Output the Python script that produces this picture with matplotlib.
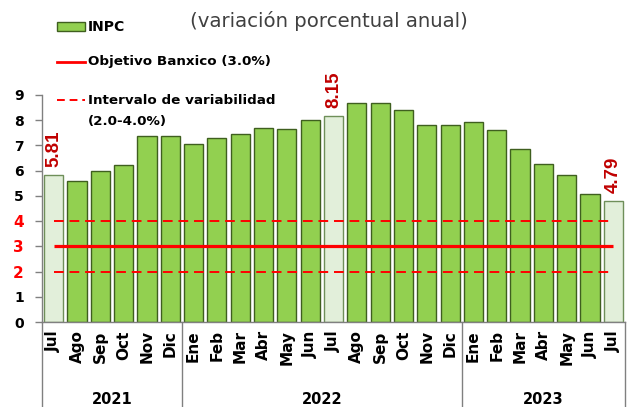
import matplotlib
matplotlib.use("Agg")
import matplotlib.pyplot as plt
from matplotlib.lines import Line2D
from matplotlib.patches import Rectangle
import matplotlib.transforms as mtransforms

months = ["Jul", "Ago", "Sep", "Oct", "Nov", "Dic",
          "Ene", "Feb", "Mar", "Abr", "May", "Jun", "Jul", "Ago", "Sep", "Oct", "Nov", "Dic",
          "Ene", "Feb", "Mar", "Abr", "May", "Jun", "Jul"]
inpc = [5.81, 5.59, 6.00, 6.24, 7.37, 7.36,
        7.07, 7.28, 7.45, 7.68, 7.65, 7.99, 8.15, 8.70, 8.70, 8.41, 7.80, 7.82,
        7.91, 7.62, 6.85, 6.25, 5.84, 5.06, 4.79]
years = ["2021", "2022", "2023"]
year_counts = [6, 12, 7]
highlight = [0, 12, 24]
objetivo = 3.0
intervalo = [2.0, 4.0]
yticks = [0, 1, 2, 3, 4, 5, 6, 7, 8, 9]

W, H = 627, 407
fig = plt.figure(figsize=(W / 100, H / 100), dpi=100)
ax = fig.add_axes([42 / W, 85 / H, 583 / W, 227 / H])

x = list(range(len(inpc)))
face = ["#E2EFDA" if i in highlight else "#92D050" for i in x]
edge = ["#6F8F5A" if i in highlight else "#3F5F1F" for i in x]
ax.bar(x, inpc, width=0.82, color=face, edgecolor=edge, linewidth=1.0, zorder=2)

red = "#FF0000"
ax.hlines(objetivo, x[0], x[-1], color=red, lw=2.3, zorder=3)
for v in intervalo:
    ax.hlines(v, x[0], x[-1], color=red, lw=1.4, linestyles=(0, (5, 3)), zorder=3)

for i in highlight:
    ax.annotate(f"{inpc[i]:.2f}", (x[i], inpc[i]), xytext=(0, 6), textcoords="offset points",
                rotation=90, ha="center", va="bottom", color="#C00000",
                fontsize=13.5, fontweight="bold", family="Liberation Sans")

ax.set_xlim(-0.5, len(inpc) - 0.5)
ax.set_ylim(0, 9)
ax.set_yticks(yticks)
ax.set_yticklabels([str(t) for t in yticks], fontweight="bold", fontsize=10)
for lab, t in zip(ax.get_yticklabels(), yticks):
    if t in (2, 3, 4):
        lab.set_color(red)
        lab.set_fontsize(11)
ax.tick_params(axis="y", length=5, width=1, color="#808080", pad=8)

ax.set_xticks(x)
ax.set_xticklabels(months, rotation=90, fontweight="bold", fontsize=11)
ax.tick_params(axis="x", length=0, pad=6)

for s in ["top", "right"]:
    ax.spines[s].set_visible(False)
for s in ["left", "bottom"]:
    ax.spines[s].set_color("#808080")
    ax.spines[s].set_linewidth(1)

trans = mtransforms.blended_transform_factory(ax.transData, ax.transAxes)
bottom = -85 / 227
b = -0.5
seps = [b]
for c in year_counts:
    b += c
    seps.append(b)
for s in seps:
    ax.add_line(Line2D([s, s], [0, bottom], transform=trans, color="#808080", lw=1, clip_on=False))
start = -0.5
for yl, c in zip(years, year_counts):
    ax.text(start + c / 2, -78 / 227, yl, transform=trans, ha="center", va="center",
            fontsize=10.5, fontweight="bold")
    start += c

# Legend (manual)
def fx(px):
    return px / W

def fy(py):
    return 1 - py / H

fig.add_artist(Rectangle((fx(57), fy(31)), fx(85) - fx(57), fy(22) - fy(31),
                         facecolor="#92D050", edgecolor="#3F5F1F", lw=1))
fig.text(fx(88), fy(27), "INPC", ha="left", va="center", fontsize=10, fontweight="bold")
fig.add_artist(Line2D([fx(57), fx(85)], [fy(62), fy(62)], color=red, lw=2.0))
fig.text(fx(88), fy(62), "Objetivo Banxico (3.0%)", ha="left", va="center", fontsize=9.7, fontweight="bold")
fig.add_artist(Line2D([fx(57), fx(85)], [fy(100), fy(100)], color=red, lw=1.4, linestyle=(0, (4, 2.5))))
fig.text(fx(88), fy(100), "Intervalo de variabilidad", ha="left", va="center", fontsize=9.7, fontweight="bold")
fig.text(fx(88), fy(122), "(2.0-4.0%)", ha="left", va="center", fontsize=9.7, fontweight="bold")

fig.text(fx(190), fy(21), "(variación porcentual anual)", ha="left", va="center",
         fontsize=14.2, color="#404040")

fig.savefig("out.png", dpi=100)
